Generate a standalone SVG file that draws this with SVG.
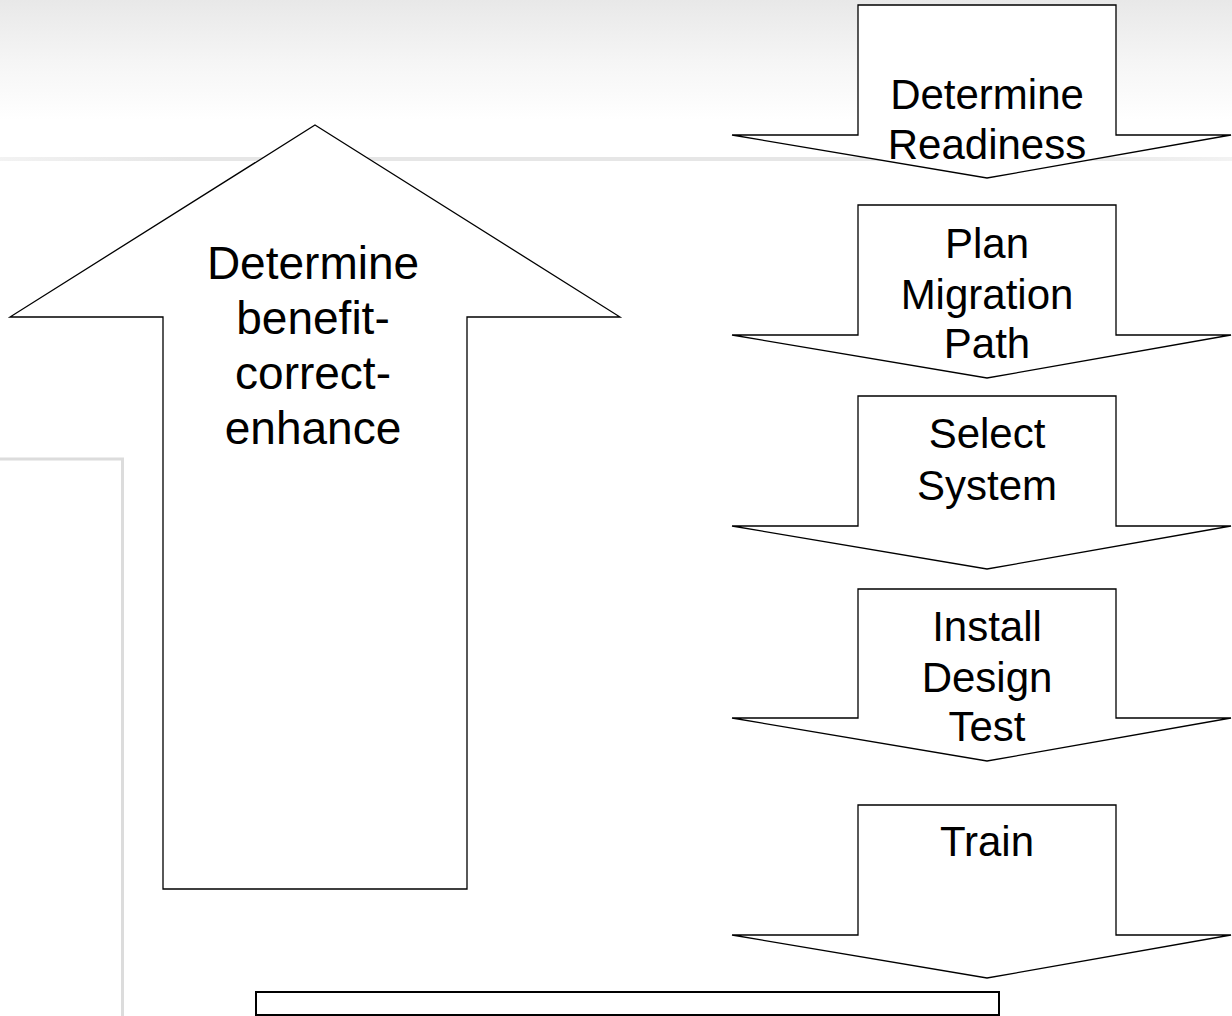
<svg xmlns="http://www.w3.org/2000/svg" width="1232" height="1016" viewBox="0 0 1232 1016">
<defs>
<linearGradient id="topg" x1="0" y1="0" x2="0" y2="1">
<stop offset="0" stop-color="#e8e8e8"/>
<stop offset="0.5" stop-color="#f5f5f5"/>
<stop offset="1" stop-color="#ffffff"/>
</linearGradient>
<linearGradient id="lineg" x1="0" y1="0" x2="1" y2="0">
<stop offset="0" stop-color="#e6e6e6" stop-opacity="0.5"/>
<stop offset="0.15" stop-color="#e6e6e6"/>
<stop offset="0.85" stop-color="#e6e6e6"/>
<stop offset="1" stop-color="#e6e6e6" stop-opacity="0.5"/>
</linearGradient>
<style>
.arrow{fill:#ffffff;stroke:#000000;stroke-width:1.3;stroke-linejoin:miter}
.lbl{font-family:"Liberation Sans",Arial,sans-serif;font-size:42px;fill:#000000;text-anchor:middle}
.big{font-size:46px}
</style>
</defs>
<rect x="0" y="0" width="1232" height="1016" fill="#ffffff"/>
<g id="background">
<rect x="0" y="0" width="1232" height="120" fill="url(#topg)"/>
<rect x="0" y="157" width="1232" height="4" fill="url(#lineg)"/>
<path d="M0,459 H122.5 V1016" fill="none" stroke="#dcdcdc" stroke-width="3"/>
</g>
<g id="node-benefit">
<polygon class="arrow" points="315,125 620,317 467,317 467,889 163,889 163,317 10,317"/>
<text class="lbl big" x="313" y="279">Determine</text>
<text class="lbl big" x="313" y="334">benefit-</text>
<text class="lbl big" x="313" y="389">correct-</text>
<text class="lbl big" x="313" y="444">enhance</text>
</g>
<g id="node-readiness">
<polygon class="arrow" points="858,5 1116,5 1116,135 1231,135 987,178 732,135 858,135"/>
<text class="lbl" x="987" y="109">Determine</text>
<text class="lbl" x="987" y="159">Readiness</text>
</g>
<g id="node-plan">
<polygon class="arrow" points="858,205 1116,205 1116,335 1231,335 987,378 732,335 858,335"/>
<text class="lbl" x="987" y="258">Plan</text>
<text class="lbl" x="987" y="309">Migration</text>
<text class="lbl" x="987" y="358">Path</text>
</g>
<g id="node-select">
<polygon class="arrow" points="858,396 1116,396 1116,526 1231,526 987,569 732,526 858,526"/>
<text class="lbl" x="987" y="448">Select</text>
<text class="lbl" x="987" y="500">System</text>
</g>
<g id="node-install">
<polygon class="arrow" points="858,589 1116,589 1116,718 1231,718 987,761 732,718 858,718"/>
<text class="lbl" x="987" y="641">Install</text>
<text class="lbl" x="987" y="692">Design</text>
<text class="lbl" x="987" y="741">Test</text>
</g>
<g id="node-train">
<polygon class="arrow" points="858,805 1116,805 1116,935 1231,935 987,978 732,935 858,935"/>
<text class="lbl" x="987" y="856">Train</text>
</g>
<g id="node-bottom">
<rect x="256" y="992" width="743" height="23" fill="#ffffff" stroke="#000000" stroke-width="2"/>
</g>
<g id="connectors"></g>
</svg>
